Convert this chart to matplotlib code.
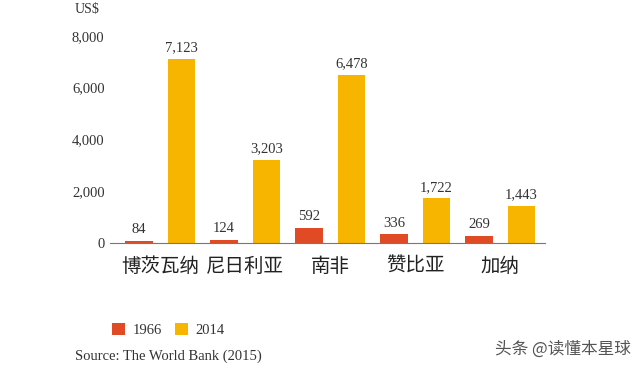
import matplotlib

matplotlib.use("Agg")
import matplotlib.pyplot as plt
import numpy as np

countries = ["博茨瓦纳", "尼日利亚", "南非", "赞比亚", "加纳"]
gdp_1966 = [84, 124, 592, 336, 269]
gdp_2014 = [7123, 3203, 6478, 1722, 1443]
y_ticks = [0, 2000, 4000, 6000, 8000]

RED = "#E04B25"
YELLOW = "#F7B500"
SERIF = ["Liberation Serif", "DejaVu Serif"]
CJK = ["Noto Sans CJK SC", "DejaVu Sans"]

fig = plt.figure(figsize=(6.4, 3.66), dpi=100)
ax = fig.add_axes([0.172, 0.336, 0.68, 0.566])

x = np.arange(len(countries))
w = 0.32
off = 0.25
b1 = ax.bar(x - off, gdp_1966, w, color=RED, label="1966")
b2 = ax.bar(x + off, gdp_2014, w, color=YELLOW, label="2014")

for bars, vals in ((b1, gdp_1966), (b2, gdp_2014)):
    for b, v in zip(bars, vals):
        ax.text(b.get_x() + b.get_width() / 2, v + 180, f"{v:,}",
                ha="center", va="bottom", fontsize=10.5, family=SERIF,
                color="#333333", clip_on=False)

ax.set_xlim(-0.59, 4.53)
ax.set_ylim(0, 8000)
ax.set_yticks(y_ticks)
ax.set_yticklabels([f"{t:,}" for t in y_ticks], family=SERIF, fontsize=10.5,
                   color="#333333")
ax.set_xticks(x)
ax.set_xticklabels(countries, family=CJK, fontsize=14, color="#222222")
ax.tick_params(length=0, pad=4)
ax.tick_params(axis="x", pad=9)
for s in ("top", "right", "left"):
    ax.spines[s].set_visible(False)
ax.spines["bottom"].set_color("#777777")
ax.spines["bottom"].set_linewidth(0.8)

fig.text(0.117, 0.992, "US$", family=SERIF, fontsize=10, color="#333333",
         ha="left", va="top")

fig.legend(handles=[b1, b2], loc="center left", bbox_to_anchor=(0.155, 0.098),
           ncol=2, frameon=False, prop={"family": SERIF, "size": 10.5},
           handlelength=0.9, handleheight=0.9, handletextpad=0.5,
           columnspacing=0.9, labelcolor="#333333")

fig.text(0.117, 0.008, "Source: The World Bank (2015)", family=SERIF,
         fontsize=10.5, color="#333333", ha="left", va="bottom")
fig.text(0.985, 0.022, "头条 @读懂本星球", family=CJK, fontsize=12,
         color="#555555", ha="right", va="bottom")

fig.savefig("out.png", dpi=100)
